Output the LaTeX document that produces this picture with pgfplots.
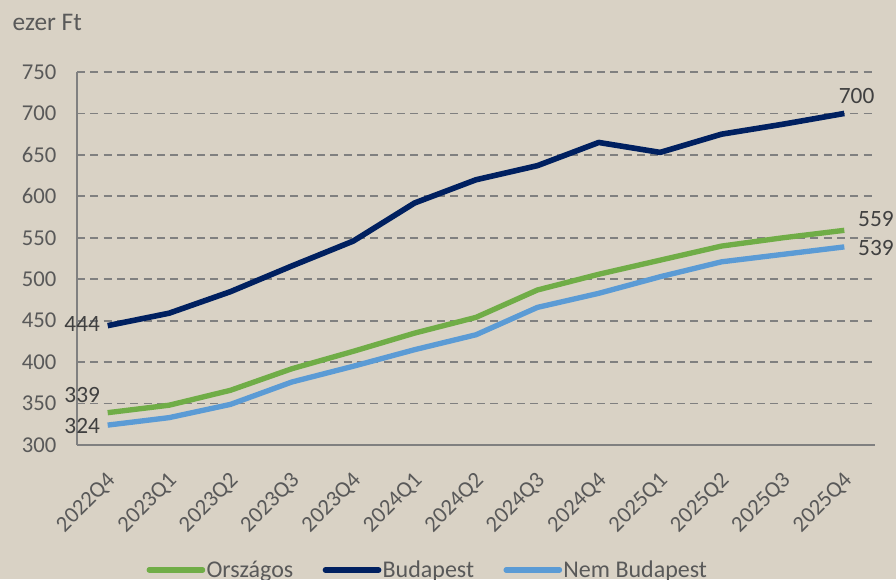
\documentclass[border=0pt]{standalone}
\usepackage{pgfplots}
\pgfplotsset{compat=1.18}
\usepackage{fontspec}
\setmainfont{Carlito}
\definecolor{bg}{HTML}{D9D2C5}
\definecolor{txt}{HTML}{595959}
\definecolor{lbl}{HTML}{404040}
\definecolor{grn}{HTML}{70AD47}
\definecolor{navy}{HTML}{002060}
\definecolor{lblue}{HTML}{5B9BD5}
\definecolor{gridc}{HTML}{808080}
\begin{document}
\begin{tikzpicture}[x=0.75pt,y=0.75pt]
\fill[bg] (0,0) rectangle (896,579);
\path[use as bounding box] (0,0) rectangle (896,579);
\node[anchor=west,text=txt,font=\fontsize{19pt}{21pt}\selectfont] at (8,557) {ezer Ft};
\begin{axis}[
  at={(57.75pt,100.5pt)}, anchor=south west,
  scale only axis, width=598.5pt, height=279.75pt,
  xmin=-0.5, xmax=12.5, ymin=300, ymax=750,
  ytick={300,350,...,750},
  xtick={0,...,12},
  xticklabels={2022Q4,2023Q1,2023Q2,2023Q3,2023Q4,2024Q1,2024Q2,2024Q3,2024Q4,2025Q1,2025Q2,2025Q3,2025Q4},
  x tick label style={xshift=-1.5pt, yshift=-18pt, rotate=45, anchor=north east, inner sep=1pt},
  y tick label style={xshift=-12pt},
  tick label style={text=txt, font=\fontsize{17pt}{19pt}\selectfont},
  /pgf/number format/assume math mode=true,
  major tick length=0pt,
  axis x line*=bottom, axis y line*=left,
  axis line style={gridc, line width=1.2pt, -},
  ymajorgrids, grid style={gridc, dashed, line width=1.4pt, dash pattern=on 6pt off 4pt},
  clip=false,
  legend columns=3,
  legend style={draw=none, fill=none, at={(0.44,-0.335)}, anchor=center, text=txt,
    font=\fontsize{18pt}{20pt}\selectfont, inner sep=0pt,
    /tikz/every even column/.append style={column sep=20pt},
    /tikz/every odd column/.append style={column sep=-1pt}},
  legend image code/.code={\draw[#1, line width=4pt, line cap=round] (0pt,0pt) -- (40pt,0pt);},
]
\addplot[grn, line width=4pt, line join=round] coordinates {
(0,339) (1,348) (2,366) (3,392) (4,413) (5,435) (6,454) (7,487) (8,506) (9,523) (10,540) (11,550) (12,559)};
\addlegendentry{Országos}
\addplot[navy, line width=4.2pt, line join=round] coordinates {
(0,444) (1,459) (2,485) (3,516) (4,546) (5,592) (6,620) (7,637) (8,665) (9,653) (10,675) (11,687) (12,700)};
\addlegendentry{Budapest}
\addplot[lblue, line width=4pt, line join=round] coordinates {
(0,324) (1,333) (2,349) (3,376) (4,395) (5,415) (6,433) (7,466) (8,483) (9,503) (10,521) (11,530) (12,539)};
\addlegendentry{Nem Budapest}
\begin{scope}[every node/.style={text=lbl, font=\fontsize{17.5pt}{19pt}\selectfont}]
\node[anchor=east] at (axis cs:-0.05,446) {444};
\node[anchor=east] at (axis cs:-0.05,360) {339};
\node[anchor=east] at (axis cs:-0.05,323) {324};
\node[anchor=south] at (axis cs:12.2,706) {700};
\node[anchor=west] at (axis cs:12.15,573) {559};
\node[anchor=west] at (axis cs:12.15,538) {539};
\end{scope}
\end{axis}
\end{tikzpicture}
\end{document}
